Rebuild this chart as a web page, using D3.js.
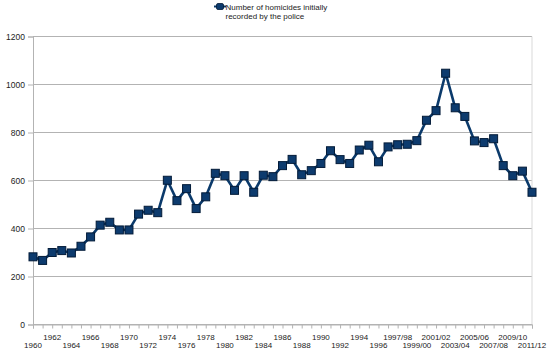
<!DOCTYPE html>
<html>
<head>
<meta charset="utf-8">
<script src="https://cdn.jsdelivr.net/npm/d3@7"></script>
<style>
  html, body { margin: 0; padding: 0; background: #fff; }
  svg { display: block; font-family: "Liberation Sans", Arial, sans-serif; }
</style>
</head>
<body>
<svg id="chart" width="550" height="360"></svg>
<script>
const categories = [
  "1960","1961","1962","1963","1964","1965","1966","1967","1968","1969",
  "1970","1971","1972","1973","1974","1975","1976","1977","1978","1979",
  "1980","1981","1982","1983","1984","1985","1986","1987","1988","1989",
  "1990","1991","1992","1993","1994","1995","1996","1997",
  "1997/98","1998/99","1999/00","2000/01","2001/02","2002/03","2003/04",
  "2004/05","2005/06","2006/07","2007/08","2008/09","2009/10","2010/11","2011/12"
];
const homicides = [
  282, 267, 300, 308, 298, 326, 365, 414, 426, 394,
  394, 460, 476, 466, 601, 516, 566, 483, 532, 630,
  620, 559, 620, 551, 622, 616, 662, 688, 624, 641,
  671, 724, 687, 671, 727, 747, 678, 740,
  749, 751, 766, 851, 891, 1047, 903,
  867, 765, 758, 774, 662, 620, 639, 551
];
const yTicks = [0, 200, 400, 600, 800, 1000, 1200];
const seriesName = ["Number of homicides initially", "recorded by the police"];

const svg = d3.select("#chart");
const m = { left: 33, right: 532, top: 36.5, bottom: 324.5 };

const x = d3.scalePoint().domain(categories).range([m.left, m.right]);
const y = d3.scaleLinear().domain([0, 1200]).range([m.bottom, m.top]);

// gridlines
svg.append("g").selectAll("line").data(yTicks).join("line")
  .attr("x1", m.left).attr("x2", m.right)
  .attr("y1", d => y(d)).attr("y2", d => y(d))
  .attr("stroke", "#b3b3b3").attr("stroke-width", 1);

// right border
svg.append("line").attr("x1", m.right).attr("x2", m.right)
  .attr("y1", m.top).attr("y2", m.bottom)
  .attr("stroke", "#d9d9d9").attr("stroke-width", 1);

// y axis
const yAxis = svg.append("g").attr("transform", `translate(${m.left},0)`)
  .call(d3.axisLeft(y).tickValues(yTicks).tickSize(5).tickPadding(3).tickFormat(d3.format("d")));
yAxis.select(".domain").attr("stroke", "#b3b3b3");
yAxis.selectAll(".tick line").attr("stroke", "#b3b3b3");
yAxis.selectAll("text").attr("font-size", 8.5).attr("fill", "#222")
  .attr("font-family", "Liberation Sans, Arial, sans-serif");

// x axis
const xAxis = svg.append("g").attr("transform", `translate(0,${m.bottom})`)
  .call(d3.axisBottom(x).tickSize(4).tickFormat(""));
xAxis.select(".domain").attr("stroke", "#b3b3b3");
xAxis.selectAll(".tick line").attr("stroke", "#b3b3b3");

// x labels, every second category in two staggered rows
const labelled = categories.filter((c, i) => i % 2 === 0);
svg.append("g").selectAll("text").data(labelled).join("text")
  .attr("x", d => x(d))
  .attr("y", (d, i) => i % 2 === 0 ? 347.5 : 339.5)
  .attr("text-anchor", "middle")
  .attr("font-size", 8).attr("fill", "#222")
  .text(d => d);

// line
const line = d3.line().x((d, i) => x(categories[i])).y(d => y(d));
svg.append("path").datum(homicides)
  .attr("d", line).attr("fill", "none")
  .attr("stroke", "#0b3a6b").attr("stroke-width", 2.6)
  .attr("stroke-linejoin", "round");

// markers
const s = 8;
svg.append("g").selectAll("rect").data(homicides).join("rect")
  .attr("x", (d, i) => x(categories[i]) - s / 2)
  .attr("y", d => y(d) - s / 2)
  .attr("width", s).attr("height", s)
  .attr("fill", "#0d3b6e").attr("stroke", "#031b38").attr("stroke-width", 1);

// legend
const lg = svg.append("g");
lg.append("line").attr("x1", 214).attr("x2", 226).attr("y1", 6.5).attr("y2", 6.5)
  .attr("stroke", "#0b3a6b").attr("stroke-width", 2);
lg.append("rect").attr("x", 216.5).attr("y", 3.5).attr("width", 7).attr("height", 6)
  .attr("rx", 1.5)
  .attr("fill", "#0d3b6e").attr("stroke", "#031b38").attr("stroke-width", 0.8);
lg.selectAll("text").data(seriesName).join("text")
  .attr("x", 225.5).attr("y", (d, i) => 10 + i * 9)
  .attr("font-size", 8).attr("fill", "#222")
  .text(d => d);
</script>
</body>
</html>
